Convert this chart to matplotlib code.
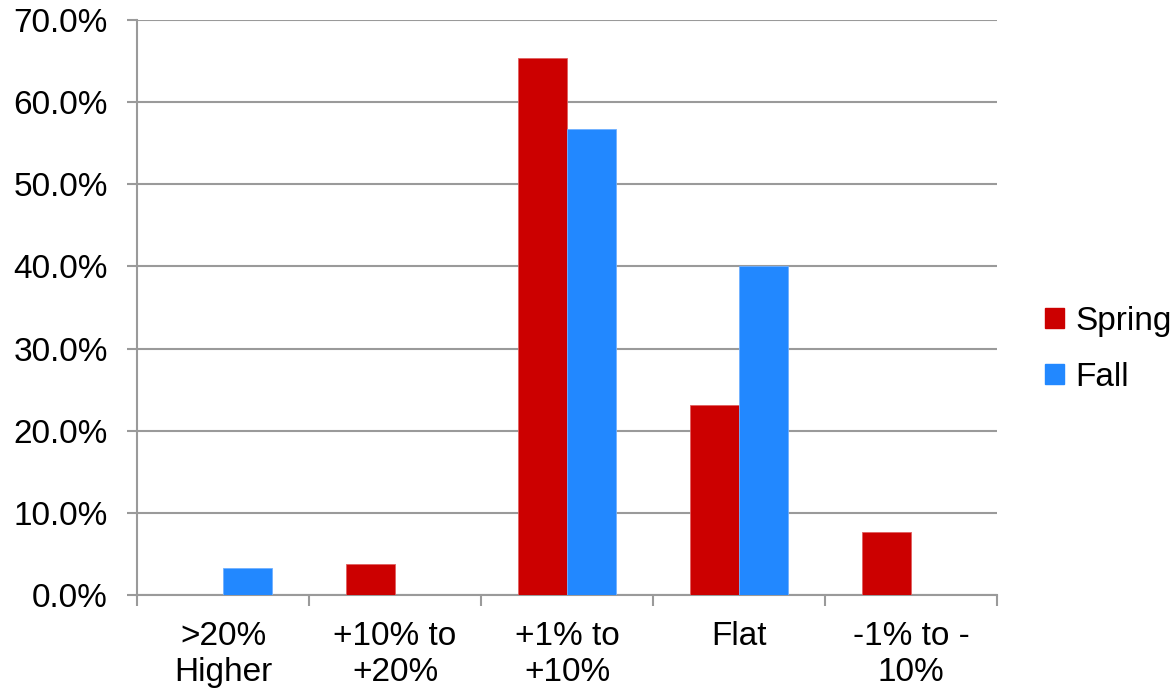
import matplotlib.pyplot as plt
import numpy as np
from matplotlib.patches import Patch

categories = [">20%\nHigher", "+10% to\n+20%", "+1% to\n+10%", "Flat", "-1% to -\n10%"]
spring = [0.0, 3.8, 65.4, 23.1, 7.7]
fall = [3.3, 0.0, 56.7, 40.0, 0.0]
yticks = [0, 10, 20, 30, 40, 50, 60, 70]

plt.rcParams['font.family'] = ['Liberation Sans', 'DejaVu Sans']

red = '#CC0000'
blue = '#2288FF'
grid_col = '#9A9A9A'

fig = plt.figure(figsize=(11.75, 6.91), dpi=100)
ax = fig.add_axes([137/1175, 1 - 595/691, (997 - 137)/1175, (595 - 20)/691])

x = np.arange(len(categories))
w = 0.285
ax.bar(x - w/2, spring, w, color=red, edgecolor='#E06060', linewidth=0.6, zorder=3)
ax.bar(x + w/2, fall, w, color=blue, edgecolor='#70B0FF', linewidth=0.6, zorder=3)

ax.set_xlim(-0.5, len(categories) - 0.5)
ax.set_ylim(0, 70)
ax.set_yticks(yticks)
ax.set_yticklabels(['%.1f%%' % v for v in yticks], fontsize=24)
ax.yaxis.grid(True, color=grid_col, linewidth=1.5, zorder=0)
ax.set_axisbelow(True)

ax.set_xticks(x)
ax.set_xticklabels(categories, fontsize=24, linespacing=1.2)
ax.set_xticks(np.arange(-0.5, len(categories)), minor=True)
ax.tick_params(axis='x', which='major', length=0, pad=19)
ax.tick_params(axis='x', which='minor', length=8, width=1.5, color=grid_col)
ax.tick_params(axis='y', length=7, width=1.5, color=grid_col, pad=14)

for s in ['top', 'right']:
    ax.spines[s].set_visible(False)
for s in ['left', 'bottom']:
    ax.spines[s].set_color(grid_col)
    ax.spines[s].set_linewidth(1.5)

handles = [Patch(color=red, label='Spring'), Patch(color=blue, label='Fall')]
fig.legend(handles=handles, loc='center left', bbox_to_anchor=(1022/1175, 1 - 349/691),
           frameon=False, fontsize=24, handlelength=0.55, handleheight=0.55,
           handletextpad=0.35, labelspacing=0.75, borderpad=0.2)

fig.savefig('out.png', dpi=100)
